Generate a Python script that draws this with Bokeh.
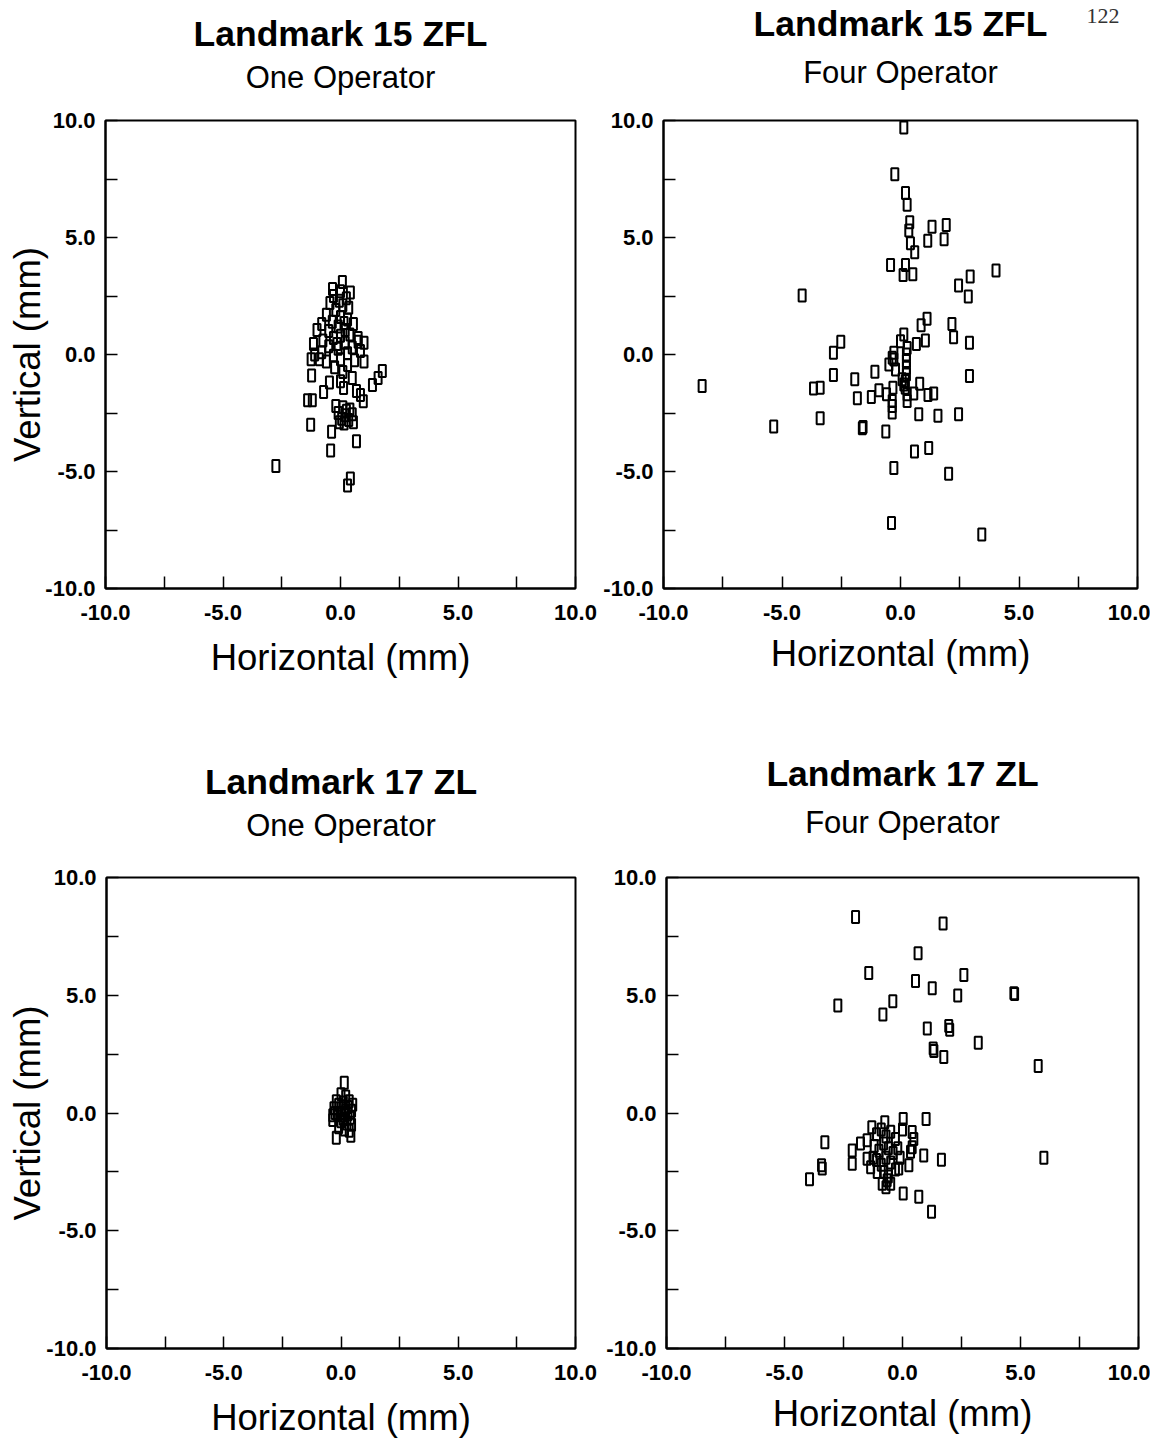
from bokeh.plotting import figure
from bokeh.models import FixedTicker, Title, PrintfTickFormatter, Range1d
from bokeh.layouts import column, row
from bokeh.embed import file_html
from bokeh.resources import INLINE

# ---------------- data ----------------
major_ticks = [-10.0, -5.0, 0.0, 5.0, 10.0]
minor_ticks = [-7.5, -2.5, 2.5, 7.5]

titles = ["Landmark 15 ZFL", "Landmark 15 ZFL", "Landmark 17 ZL", "Landmark 17 ZL"]
subtitles = ["One Operator", "Four Operator", "One Operator", "Four Operator"]
x_label = "Horizontal (mm)"
y_label = "Vertical (mm)"
page_number = "122"

# Landmark 15 ZFL, one operator
lm15_one_x = [-2.75, 0.68, -0.42, 0.42, 0.3, -1.27, -0.38, -1.23, -1.4, -1.2, -0.72, -0.47, 0.0, 0.13,
              0.5, 0.68, 0.97, 0.85, 1.36, 1.6, 1.78,
              -0.1, 0.05, 0.2, 0.35, 0.5, 0.15, -0.05, 0.4, 0.25, 0.55, -0.2, 0.1,
              0.08, -0.34, 0.42, -0.3, 0.0, 0.25, -0.45, 0.1, 0.35, -0.2, -0.6, 0.0, 0.3, -0.35, 0.55,
              -0.8, -0.1, 0.2, -0.5, -1.0, 0.4, 0.0, -0.3, -0.75, 0.75, 1.0, -1.15, 0.2, -0.5, 0.5,
              -0.1, -1.1, -0.8, 0.85, 0.3, -0.3, 0.0, 0.6, -0.6, -1.25, 1.0, 0.3, -0.25, 0.1, -0.9,
              0.75, -0.15, 0.15, -0.05]
lm15_one_y = [-4.77, -3.71, -4.1, -5.3, -5.6, -3.0, -3.3, -0.9, -1.95, -1.95, -1.6, -1.2, -1.14, -1.43,
              -1.0, -1.56, -2.0, -1.73, -1.3, -1.0, -0.7,
              -2.5, -2.75, -2.6, -2.8, -2.55, -2.95, -2.9, -2.35, -2.4, -2.9, -2.2, -2.25,
              3.1, 2.8, 2.65, 2.5, 2.7, 2.4, 2.2, 2.1, 2.0, 1.9, 1.7, 1.6, 1.5, 1.4, 1.3,
              1.3, 1.2, 1.05, 1.0, 1.05, 0.85, 0.8, 0.7, 0.6, 0.7, 0.5, 0.45, 0.5, 0.35, 0.3,
              0.25, 0.0, 0.1, 0.15, 0.05, -0.05, -0.2, -0.25, -0.3, -0.2, -0.3, -0.45, -0.55, -0.75, -0.2,
              0.55, 0.45, 1.35, 2.3]

# Landmark 15 ZFL, four operators
lm15_four_x = [0.14, -0.24, 0.21, 0.28, 0.39, 0.35, 1.33, 1.93, 1.15, 1.84, 0.42, 0.6, -0.42, 0.21,
               0.11, 0.52, 4.03, 2.94, 2.45, 2.86, -4.15, 1.12, 0.87, 2.17, 2.24, 2.91, 1.05, 0.67,
               0.14, 0.0, 0.28, -2.52, -2.83, -0.28, -0.35, -0.28, 0.25, 0.25, 0.25, 0.25, 0.2, 0.2,
               0.28, 0.28, -0.49, -0.21, 0.07, 0.14, -1.08, -1.93, -2.83, -3.39, -3.67, -8.37, -1.82,
               -1.23, -0.91, -0.59, -0.32, -0.35, -0.35, -0.35, 0.56, 0.81, 1.16, 1.4, 2.91, -3.39,
               -5.35, -1.61, -1.58, -0.62, 0.77, 1.58, 2.45, 0.59, 1.19, -0.28, 2.03, -0.38, 3.43]
lm15_four_y = [9.7, 7.7, 6.9, 6.4, 5.65, 5.3, 5.46, 5.53, 4.86, 4.92, 4.75, 4.37, 3.83, 3.83,
               3.4, 3.43, 3.59, 3.33, 2.95, 2.48, 2.52, 1.53, 1.25, 1.3, 0.74, 0.5, 0.6, 0.45,
               0.85, 0.57, 0.28, 0.54, 0.07, 0.07, -0.14, -0.21, 0.0, -0.28, -0.57, -0.85, -1.13, -1.42,
               -1.7, -1.99, -0.43, -0.64, -1.06, -1.28, -0.74, -1.06, -0.88, -1.42, -1.45, -1.35, -1.87,
               -1.82, -1.53, -1.7, -1.42, -1.99, -2.2, -2.48, -1.67, -1.25, -1.73, -1.67, -0.92, -2.72,
               -3.08, -3.15, -3.1, -3.29, -2.55, -2.62, -2.55, -4.14, -4.0, -4.85, -5.1, -7.2, -7.69]

# Landmark 17 ZL, one operator
lm17_one_x = [0.14, -0.2, 0.42, 0.0, 0.2, -0.2, 0.1, 0.35, -0.3, 0.0, 0.3, 0.45, -0.15, 0.15, 0.4,
              -0.35, 0.0, 0.25, 0.45, -0.1, 0.15, 0.35, -0.25, 0.05, 0.3, 0.1, -0.1, 0.2, 0.5, -0.35]
lm17_one_y = [1.28, -1.05, -0.97, 0.8, 0.7, 0.5, 0.45, 0.5, 0.2, 0.2, 0.25, 0.1, -0.05, -0.1, -0.2,
              -0.3, -0.35, -0.45, -0.5, -0.6, -0.7, -0.75, 0.0, 0.0, -0.05, -0.25, 0.35, 0.1, 0.35, -0.1]

# Landmark 17 ZL, four operators
lm17_four_x = [-1.99, 1.72, 0.66, -1.43, 0.55, 1.26, 2.6, 2.34, 4.72, 4.75, -2.74, -0.41, -0.83, 1.05,
               1.96, 2.0, 3.21, 1.3, 1.33, 1.75, 5.75,
               5.99, -3.29, -3.43, -3.4, -3.94, 0.03, 1.0, 0.9, 1.65, 0.03, 0.69, 1.23, -0.75, 0.41,
               0.48, 0.41, 0.34, 0.27, -0.16, -2.13, -2.13, -1.78, -1.5, -1.5,
               -1.3, -1.1, -0.9, -0.7, -0.5, -0.3, -1.2, -1.0, -0.8, -0.6, -0.4, -0.2, -1.1, -0.9,
               -0.7, -0.5, -0.3, -0.8, -0.6, -0.65, -0.86, -1.07, -0.5, -0.7, -1.25, 0.0, -0.1, -1.35]
lm17_four_y = [8.32, 8.05, 6.78, 5.94, 5.61, 5.3, 5.86, 4.99, 5.09, 5.05, 4.56, 4.74, 4.18, 3.59,
               3.69, 3.54, 2.98, 2.74, 2.63, 2.38, 2.0,
               -1.9, -1.24, -2.22, -2.36, -2.81, -0.25, -0.25, -1.8, -1.98, -3.42, -3.56, -4.19, -0.39, -0.81,
               -1.1, -1.45, -1.65, -2.22, -2.36, -1.59, -2.15, -1.3, -1.16, -1.94,
               -0.6, -0.9, -0.7, -1.0, -0.8, -1.1, -1.4, -1.6, -1.3, -1.5, -1.7, -1.5, -2.0, -2.2,
               -1.9, -2.1, -2.4, -2.5, -2.7, -2.86, -3.0, -2.5, -3.0, -3.15, -1.9, -0.7, -1.9, -2.3]

FONT = "Liberation Sans"


def make_panel(xs, ys, title, subtitle, width, height, bl, br, bt, bb,
               sub_standoff, title_standoff, xlab_standoff, with_ylabel, ylab_standoff=-5):
    p = figure(width=width, height=height, output_backend="svg", toolbar_location=None,
               title_location=None,
               x_range=Range1d(-10, 10), y_range=Range1d(-10, 10),
               min_border_left=bl, min_border_right=br, min_border_top=bt, min_border_bottom=bb,
               background_fill_color="white", border_fill_color="white")
    p.grid.visible = False
    p.outline_line_color = "black"
    p.outline_line_width = 2
    for ax in (p.xaxis[0], p.yaxis[0]):
        ax.ticker = FixedTicker(ticks=major_ticks, minor_ticks=minor_ticks)
        ax.formatter = PrintfTickFormatter(format="%.1f")
        ax.major_tick_in = 12
        ax.major_tick_out = 0
        ax.minor_tick_in = 12
        ax.minor_tick_out = 0
        ax.major_tick_line_color = "black"
        ax.minor_tick_line_color = "black"
        ax.major_tick_line_width = 1.5
        ax.minor_tick_line_width = 1.5
        ax.axis_line_color = "black"
        ax.axis_line_width = 2
        ax.major_label_text_font = FONT
        ax.major_label_text_font_size = "22px"
        ax.major_label_text_font_style = "bold"
        ax.major_label_text_color = "black"
        ax.axis_label_text_font = FONT
        ax.axis_label_text_font_size = "36.5px"
        ax.axis_label_text_font_style = "normal"
        ax.axis_label_text_color = "black"
    p.yaxis[0].major_label_standoff = 10
    p.xaxis[0].major_label_standoff = 16
    p.xaxis[0].axis_label = x_label
    p.xaxis[0].axis_label_standoff = xlab_standoff
    if with_ylabel:
        p.yaxis[0].axis_label = y_label
        p.yaxis[0].axis_label_standoff = ylab_standoff

    p.rect(x=xs, y=ys, width=7, height=12, width_units="screen", height_units="screen",
           fill_color=None, line_color="black", line_width=2)

    p.add_layout(Title(text=subtitle, text_font=FONT, text_font_size="31px",
                       text_font_style="normal", text_color="black", align="center",
                       standoff=sub_standoff), "above")
    p.add_layout(Title(text=title, text_font=FONT, text_font_size="35.5px",
                       text_font_style="bold", text_color="black", align="center",
                       standoff=title_standoff), "above")
    return p


p1 = make_panel(lm15_one_x, lm15_one_y, titles[0], subtitles[0], 600, 700, 105, 25, 120, 112,
                52, -45, 14, True, -6)
p2 = make_panel(lm15_four_x, lm15_four_y, titles[1], subtitles[1], 550, 700, 63, 13, 120, 112,
                62, -45, 10, False)
p2.add_layout(Title(text=page_number, text_font="Liberation Serif", text_font_size="22px",
                    text_font_style="normal", text_color="#333333", align="right",
                    standoff=-3, offset=18), "above")
p3 = make_panel(lm17_one_x, lm17_one_y, titles[2], subtitles[2], 600, 745, 106, 25, 177, 97,
                70, -63, 14, True, -5)
p4 = make_panel(lm17_four_x, lm17_four_y, titles[3], subtitles[3], 550, 745, 66, 12, 177, 97,
                76, -59, 10, False)

layout = column(row(p1, p2), row(p3, p4))
open("out.html", "w").write(file_html(layout, INLINE))
